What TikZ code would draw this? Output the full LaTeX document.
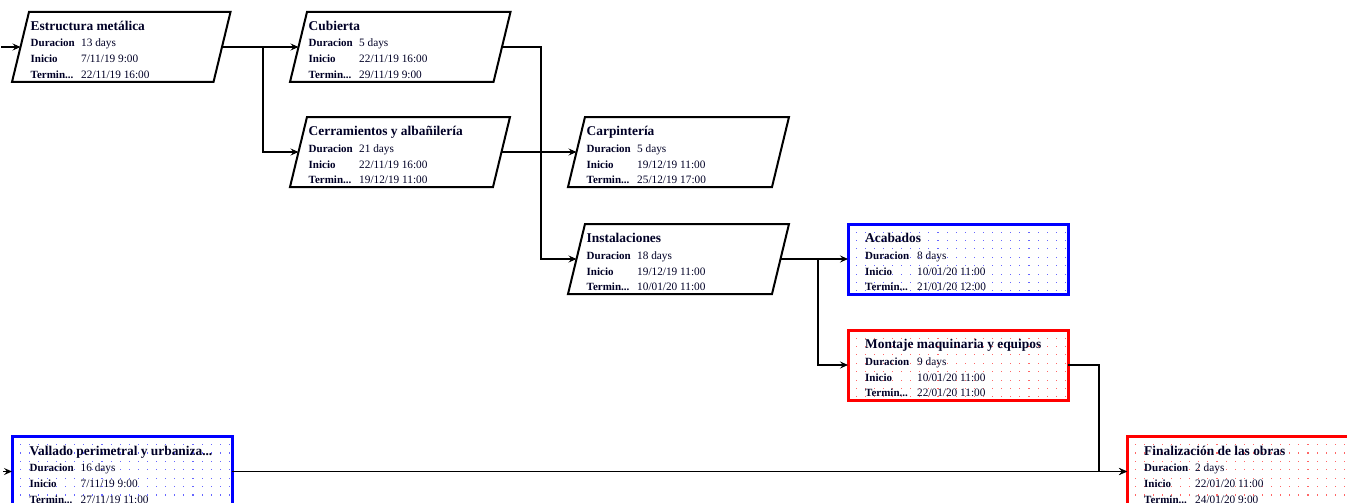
\documentclass[tikz,border=0pt]{standalone}
\usepackage{fontspec}
\setmainfont{Liberation Serif}
\usetikzlibrary{arrows.meta,calc}
\tikzset{
  pbox/.style={anchor=north west, minimum height=70pt, inner sep=0pt, outer sep=0pt},
  pline/.style={draw=black, line width=2pt, line join=miter},
  rbox/.style={anchor=north west, minimum width=220pt, minimum height=70pt, inner sep=0pt, outer sep=0pt, line width=3pt},
  ttl/.style={font=\bfseries\fontsize{13.4}{13.4}\selectfont, inner sep=0pt, anchor=base west, text=black!85!blue},
  lbl/.style={font=\bfseries\fontsize{11}{11}\selectfont, inner sep=0pt, anchor=base west, text=black!85!blue},
  val/.style={font=\fontsize{11.3}{11.3}\selectfont, inner sep=0pt, anchor=base west, text=black!85!blue},
  conn/.style={draw=black, line width=1.1pt, -{Stealth[length=8pt,width=7pt,inset=3pt]}},
  link/.style={draw=black, line width=1.1pt},
}
% text block of a task: title, duration, start and finish
\newcommand\taskfields[7]{%
  \node[ttl] (#1-t)  at ($(#1.north west)+(#2,18.5)$) {#4};
  \node[lbl] (#1-l1) at ($(#1.north west)+(#2,35)$) {Duracion};
  \node[val] (#1-v1) at ($(#1.north west)+(#3,35)$) {#5};
  \node[lbl] (#1-l2) at ($(#1.north west)+(#2,51)$) {Inicio};
  \node[val] (#1-v2) at ($(#1.north west)+(#3,51)$) {#6};
  \node[lbl] (#1-l3) at ($(#1.north west)+(#2,66.5)$) {Termin...};
  \node[val] (#1-v3) at ($(#1.north west)+(#3,66.5)$) {#7};
}
% slanted outline around a task node
\newcommand\slantbox[1]{%
  \draw[pline] ($(#1.north west)+(8.5,0)$) -- ($(#1.north east)+(8.5,0)$)
    -- ($(#1.south east)+(-8.5,0)$) -- ($(#1.south west)+(-8.5,0)$) -- cycle;}
% dotted grid inside a milestone-style box
\newcommand\dotgrid[2]{%
  \begin{scope}
    \clip (#1.north west) rectangle (#1.south east);
    \foreach \i in {0,...,24}{\foreach \j in {0,...,8}{%
      \fill[#2] ($(#1.north west)+(7.5+9.1*\i,7.5+8.4*\j)$) rectangle ++(1.1,1.1);}}
  \end{scope}}
\begin{document}
\begin{tikzpicture}[x=1pt,y=-1pt]
\useasboundingbox (0,0) rectangle (1347,503);
\clip (0,0) rectangle (1347,503);
\fill[white] (0,0) rectangle (1347,503);

% slanted task boxes
\node[pbox, minimum width=201.5pt] (est) at (20.5,12) {};
\node[pbox, minimum width=203.5pt] (cub) at (298.5,12) {};
\node[pbox, minimum width=203pt]   (cer) at (298.5,117) {};
\node[pbox, minimum width=204pt]   (car) at (576.5,117) {};
\node[pbox, minimum width=204pt]   (ins) at (576.5,224) {};
\foreach \b in {est,cub,cer,car,ins}{\slantbox{\b}}

\taskfields{est}{10}{60.5}{Estructura metálica}{13 days}{7/11/19 9:00}{22/11/19 16:00}
\taskfields{cub}{10}{60.5}{Cubierta}{5 days}{22/11/19 16:00}{29/11/19 9:00}
\taskfields{cer}{10}{60.5}{Cerramientos y albañilería}{21 days}{22/11/19 16:00}{19/12/19 11:00}
\taskfields{car}{10}{60.5}{Carpintería}{5 days}{19/12/19 11:00}{25/12/19 17:00}
\taskfields{ins}{10}{60.5}{Instalaciones}{18 days}{19/12/19 11:00}{10/01/20 11:00}

% rectangular boxes with dotted fill
\node[rbox, draw=blue] (aca) at (848,224) {};
\node[rbox, draw=red]  (mon) at (848,330) {};
\node[rbox, draw=blue] (val) at (12,436.5) {};
\node[rbox, draw=red, minimum width=223pt] (fin) at (1127,436.5) {};
\dotgrid{aca}{blue!60}
\dotgrid{mon}{red!60}
\dotgrid{val}{blue!60}
\dotgrid{fin}{red!60}

\taskfields{aca}{17}{69}{Acabados}{8 days}{10/01/20 11:00}{21/01/20 12:00}
\taskfields{mon}{17}{69}{Montaje maquinaria y equipos}{9 days}{10/01/20 11:00}{22/01/20 11:00}
\taskfields{val}{17.5}{68.5}{Vallado perimetral y urbaniza...}{16 days}{7/11/19 9:00}{27/11/19 11:00}
\taskfields{fin}{17}{68}{Finalización de las obras}{2 days}{22/01/20 11:00}{24/01/20 9:00}

% dependencies
\coordinate (in1) at (1,47);
\coordinate (in2) at (3,471.5);
\draw[conn] (in1) -- (est.west);
\draw[conn] (in2) -- (val.west);
\draw[link] (est.east) -- ++(41,0) coordinate (j1);
\draw[conn] (j1) -- (cub.west);
\draw[conn] (j1) |- (cer.west);
\draw[conn] (cub.east) -- ++(39,0) |- (ins.west);
\draw[conn] (cer.east) -- (car.west);
\draw[link] (ins.east) -- ++(37.5,0) coordinate (j2);
\draw[conn] (j2) -- (aca.west);
\draw[conn] (j2) |- (mon.west);
\draw[conn] (mon.east) -- ++(31,0) |- (fin.west);
\draw[conn] (val.east) -- (fin.west);
\end{tikzpicture}
\end{document}
